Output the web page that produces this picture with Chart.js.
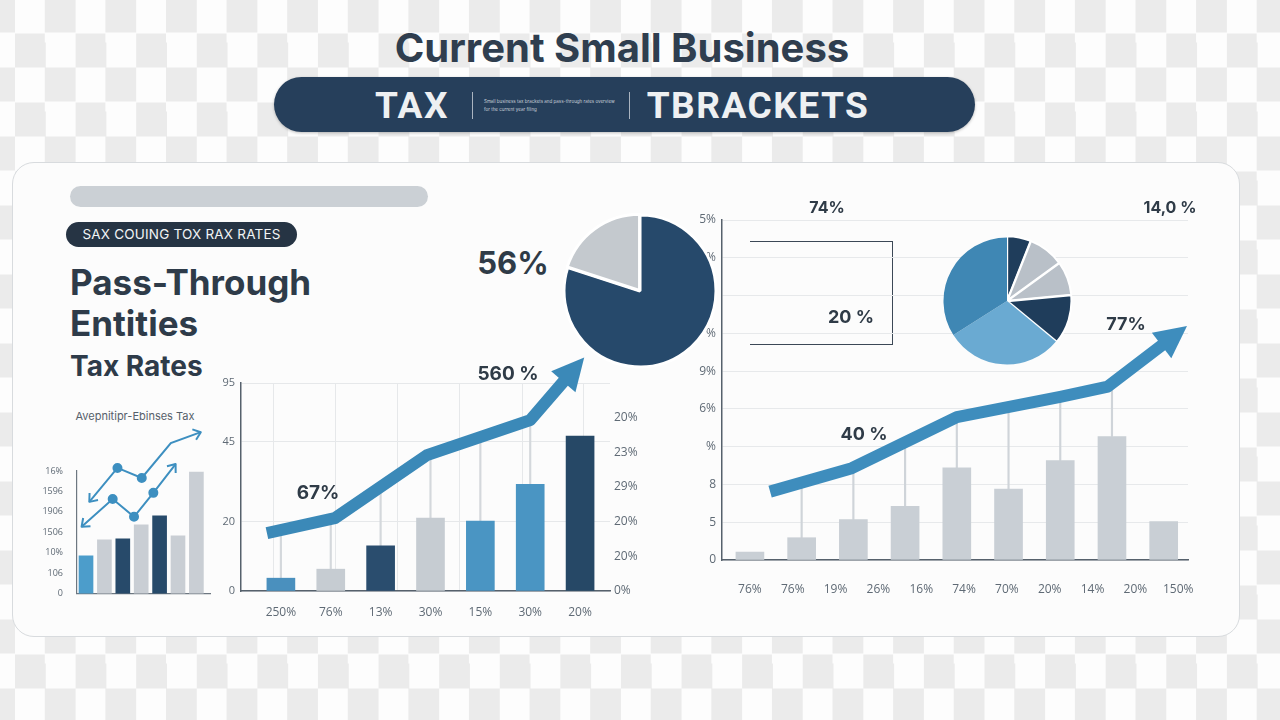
<!DOCTYPE html>
<html>
<head>
<meta charset="utf-8">
<title>Current Small Business Tax Brackets</title>
<script src="https://cdn.jsdelivr.net/npm/chart.js@4.4.1/dist/chart.umd.min.js"></script>
<style>
html, body { margin: 0; padding: 0; }
body {
    width: 1280px; height: 720px; position: relative; overflow: hidden;
    font-family: Inter, "Open Sans", sans-serif;
    background-color: #fdfdfd;
    background-image: conic-gradient(#ebebeb 0 25%, #fdfdfd 0 50%, #ebebeb 0 75%, #fdfdfd 0);
    background-size: 60.6px 69px;
    background-position: 15px -1.5px;
}
.abs { position: absolute; }
.c { transform: translate(-50%, -50%); white-space: nowrap; }
.box { position: absolute; }
.box canvas { display: block; }
#title { left: 622px; top: 47px; font-size: 40px; font-weight: 700; color: #2f3e4f; }
#banner {
    left: 274px; top: 77px; width: 701px; height: 55px; border-radius: 28px;
    background: #263f5b; box-shadow: 0 1px 3px rgba(0,0,0,.25);
}
.bword { top: 105px; font-family: Roboto, sans-serif; font-size: 37px; font-weight: 700; color: #eef0f2; letter-spacing: 1.5px; }
.sep { top: 92px; width: 1px; height: 27px; background: #aab4c0; }
#tiny { left: 484px; top: 98px; width: 132px; font-size: 4.5px; line-height: 8px; color: #c9d1da; }
#card {
    left: 12px; top: 162px; width: 1228px; height: 475px; border-radius: 22px;
    background: #fcfcfc; border: 1px solid #d8dbde; box-sizing: border-box;
}
#greybar { left: 70px; top: 186px; width: 358px; height: 21px; border-radius: 11px; background: #cbd0d5; }
#pill {
    left: 66px; top: 222px; width: 231px; height: 25px; border-radius: 13px; background: #263444;
    color: #f2f4f6; font-size: 13.5px; line-height: 25px; text-align: center; letter-spacing: 0.2px;
}
.head { left: 70px; font-weight: 700; color: #2e3b49; white-space: nowrap; }
.lbl { font-weight: 700; color: #2f3b47; }
#rect {
    left: 750px; top: 241px; width: 142px; height: 102px;
    border-top: 1.5px solid #3c4856; border-right: 1.5px solid #3c4856; border-bottom: 1.5px solid #3c4856;
}
</style>
</head>
<body>

<div id="title" class="abs c">Current Small Business</div>
<div id="banner" class="abs"></div>
<div class="abs c bword" style="left:412px">TAX</div>
<div class="abs sep" style="left:472px"></div>
<div id="tiny" class="abs">Small business tax brackets and pass-through rates overview for the current year filing</div>
<div class="abs sep" style="left:629px"></div>
<div class="abs c bword" style="left:758px">TBRACKETS</div>

<div id="card" class="abs"></div>
<div id="greybar" class="abs"></div>
<div id="pill" class="abs">SAX COUING TOX RAX RATES</div>
<div class="abs head" style="top:261px;font-size:35px">Pass-Through</div>
<div class="abs head" style="top:302px;font-size:35px">Entities</div>
<div class="abs head" style="top:349px;font-size:28px">Tax Rates</div>
<div class="abs c" style="left:135px;top:416px;font-size:11px;color:#56606b">Avepnitipr-Ebinses Tax</div>

<div id="rect" class="abs"></div>

<div class="box" style="left:40px;top:400px;width:175px;height:205px"><canvas id="smallChart"></canvas></div>
<div class="box" style="left:220px;top:340px;width:430px;height:285px"><canvas id="midChart"></canvas></div>
<div class="box" style="left:690px;top:191px;width:525px;height:409px"><canvas id="rightChart"></canvas></div>
<div class="box" style="left:561px;top:212px;width:158px;height:158px"><canvas id="bigPie"></canvas></div>
<div class="box" style="left:941px;top:235px;width:132px;height:132px"><canvas id="smallPie"></canvas></div>

<div class="abs c lbl" style="left:513px;top:262px;font-size:31px">56%</div>
<div class="abs c lbl" style="left:508px;top:373px;font-size:19px">560 %</div>
<div class="abs c lbl" style="left:318px;top:492px;font-size:19px">67%</div>
<div class="abs c lbl" style="left:827px;top:207px;font-size:16px">74%</div>
<div class="abs c lbl" style="left:1170px;top:207px;font-size:16px">14,0 %</div>
<div class="abs c lbl" style="left:851px;top:316px;font-size:18px">20 %</div>
<div class="abs c lbl" style="left:1126px;top:323px;font-size:18px">77%</div>
<div class="abs c lbl" style="left:864px;top:433px;font-size:18px">40 %</div>

<script>
// ============================================================
// DATA
// ============================================================
// small chart (left)
const smallYLabels = ['0', '106', '10%', '1506', '1906', '1596', '16%'];
const smallBars = [1.85, 2.63, 2.68, 3.37, 3.8, 2.83, 5.95];
const smallLineAX = [0.18, 1.71, 3.03, 4.61, 6.24];
const smallLineAY = [4.49, 6.15, 5.66, 7.37, 7.9];
const smallLineBX = [-0.24, 1.45, 2.61, 3.66, 4.87];
const smallLineBY = [3.27, 4.63, 3.76, 4.93, 6.34];

// middle chart
const midLabels = ['250%', '76%', '13%', '30%', '15%', '30%', '20%'];
const midBars = [3.7, 6.3, 13, 21, 20.2, 30.8, 44.7];
const midDrop = [16.8, 21, 31, 40.3, 44.6, 49.6, null];
const midLineX = [-0.28, 1.08, 2.93, 5.0, 5.69];
const midLineY = [16.7, 21.0, 39.2, 49.3, 60.8];
const midLeftTicks = [0, 20, 43, 60];
const midLeftLabels = ['0', '20', '45', '95'];
const midRightLabels = ['0%', '20%', '20%', '29%', '23%', '20%'];
const midGridX = [0.48, 1.73, 2.95, 4.23, 5.45];

// right chart
const rightLabels = ['76%', '76%', '19%', '26%', '16%', '74%', '70%', '20%', '14%', '20%', '150%'];
const rightBars = [0.21, 0.59, 1.07, 1.42, 2.44, 1.88, 2.63, 3.27, 1.02];
const rightDrop = [null, 2.01, 2.44, 3.11, 3.75, 4.02, 4.29, 4.61, null];
const rightLineX = [0.39, 1.97, 4.0, 6.0, 6.92, 7.99];
const rightLineY = [1.81, 2.43, 3.78, 4.32, 4.59, 5.71];
const rightYLabels = ['0', '5', '8', '%', '6%', '9%', '%', '%', '%', '5%'];

// pies
const bigPieValues = [80, 20];
const smallPieValues = [6, 9, 8.5, 12.5, 30, 34];

// ============================================================
// STYLES
// ============================================================
const NAVY = '#26496b';
const DARK = '#1f3d5b';
const ARROW = '#3b89b8';
const TICK = '#5f6a75';
const AXIS = '#56616c';

Chart.defaults.animation = false;
Chart.defaults.font.family = '"Open Sans", sans-serif';
Chart.defaults.plugins.legend.display = false;
Chart.defaults.plugins.tooltip.enabled = false;

function pts(xs, ys) {
    return xs.map(function(x, i) { return { x: x, y: ys[i] }; });
}
function drops(tops, base) {
    const out = [];
    tops.forEach(function(t, i) {
        if (t !== null) out.push({ x: i, y: [base[i], t] });
    });
    return out;
}

// arrow heads drawn on the end (or start) of flagged line datasets
function drawHead(ctx, from, to, ds) {
    const a = Math.atan2(to.y - from.y, to.x - from.x);
    const L = ds.arrow.length, W = ds.arrow.width;
    ctx.save();
    ctx.translate(to.x, to.y);
    ctx.rotate(a);
    ctx.beginPath();
    if (ds.arrow.open) {
        ctx.moveTo(-L, -W / 2);
        ctx.lineTo(0, 0);
        ctx.lineTo(-L, W / 2);
        ctx.strokeStyle = ds.borderColor;
        ctx.lineWidth = ds.borderWidth;
        ctx.lineJoin = 'round';
        ctx.stroke();
    } else {
        ctx.moveTo(-2, -W / 2);
        ctx.lineTo(L, 0);
        ctx.lineTo(-2, W / 2);
        ctx.closePath();
        ctx.fillStyle = ds.borderColor;
        ctx.fill();
    }
    ctx.restore();
}
const arrowPlugin = {
    id: 'arrows',
    afterDatasetsDraw: function(chart) {
        chart.data.datasets.forEach(function(ds, i) {
            if (!ds.arrow) return;
            const p = chart.getDatasetMeta(i).data;
            const n = p.length;
            if (ds.arrow.end) drawHead(chart.ctx, p[n - 2], p[n - 1], ds);
            if (ds.arrow.start) drawHead(chart.ctx, p[1], p[0], ds);
        });
    }
};

// ============================================================
// SMALL CHART
// ============================================================
const smallColors = ['#4c9dcb', '#c9ced4', '#274a6a', '#c9ced4', '#274a6a', '#c9ced4', '#c9ced4'];
const smallLine = function(xs, ys) {
    return {
        type: 'line', data: pts(xs, ys), borderColor: '#3d8fc0', backgroundColor: '#3d8fc0',
        borderWidth: 2, tension: 0, clip: false, order: 0,
        pointRadius: function(c) { return (c.dataIndex === 0 || c.dataIndex === xs.length - 1) ? 0 : 4; },
        arrow: { start: true, end: true, open: true, length: 7, width: 11 }
    };
};
new Chart(document.getElementById('smallChart'), {
    type: 'bar',
    data: {
        datasets: [
            smallLine(smallLineAX, smallLineAY),
            smallLine(smallLineBX, smallLineBY),
            {
                data: smallBars.map(function(v, i) { return { x: i, y: v }; }),
                backgroundColor: smallColors, barThickness: 14, order: 1
            }
        ]
    },
    options: {
        responsive: true, maintainAspectRatio: false,
        layout: { padding: { top: 71, right: 5, left: 0, bottom: 0 } },
        scales: {
            x: {
                type: 'linear', min: -0.49, max: 6.74, offset: false, bounds: 'data',
                grid: { display: false }, ticks: { display: false },
                border: { color: '#6d7781', width: 1.2 },
                afterFit: function(s) { s.height = 11; }
            },
            y: {
                min: 0, max: 6,
                grid: { display: false },
                border: { color: '#6d7781', width: 1.2 },
                ticks: {
                    stepSize: 1, padding: 6, color: TICK, font: { size: 9 },
                    callback: function(v, i) { return smallYLabels[i]; }
                },
                afterFit: function(s) { s.width = 37; }
            }
        }
    },
    plugins: [arrowPlugin]
});

// ============================================================
// MIDDLE CHART
// ============================================================
const midColors = ['#4a90be', '#c6ccd2', '#2a4d6e', '#c6ccd2', '#4a95c3', '#4a95c3', '#264866'];
new Chart(document.getElementById('midChart'), {
    type: 'bar',
    data: {
        datasets: [
            {
                type: 'line', data: pts(midLineX, midLineY), borderColor: ARROW,
                borderWidth: 12, tension: 0, pointRadius: 0, clip: false, order: 0,
                borderJoinStyle: 'round',
                arrow: { end: true, length: 30, width: 32 }
            },
            {
                data: midBars.map(function(v, i) { return { x: i, y: v }; }),
                backgroundColor: midColors, barThickness: 28, grouped: false, order: 1
            },
            {
                data: drops(midDrop, midBars), backgroundColor: '#d4d8dc',
                barThickness: 1.5, grouped: false, order: 2
            }
        ]
    },
    options: {
        responsive: true, maintainAspectRatio: false,
        layout: { padding: { top: 43, right: 0, left: 0, bottom: 0 } },
        scales: {
            x: {
                type: 'linear', min: -0.8, max: 6.6, offset: false, bounds: 'data',
                grid: { display: false },
                border: { color: AXIS, width: 1.5 },
                afterBuildTicks: function(s) { s.ticks = midLabels.map(function(l, i) { return { value: i }; }); },
                ticks: {
                    padding: 6, color: TICK, font: { size: 12 }, maxRotation: 0, autoSkip: false,
                    callback: function(v, i) { return midLabels[i]; }
                },
                afterFit: function(s) { s.height = 34; }
            },
            xg: {
                type: 'linear', position: 'bottom', min: -0.8, max: 6.6, offset: false, bounds: 'data',
                grid: { color: '#e6e8ea', drawTicks: false },
                border: { display: false },
                ticks: { display: false },
                afterBuildTicks: function(s) { s.ticks = midGridX.map(function(v) { return { value: v }; }); },
                afterFit: function(s) { s.height = 0; }
            },
            y: {
                min: 0, max: 60,
                grid: { color: '#e6e8ea', drawTicks: false },
                border: { color: AXIS, width: 1.5 },
                afterBuildTicks: function(s) { s.ticks = midLeftTicks.map(function(v) { return { value: v }; }); },
                ticks: {
                    padding: 6, color: TICK, font: { size: 11 },
                    callback: function(v, i) { return midLeftLabels[i]; }
                },
                afterFit: function(s) { s.width = 21; }
            },
            y2: {
                position: 'right', min: 0, max: 60,
                grid: { display: false, drawTicks: false },
                border: { display: false },
                afterBuildTicks: function(s) { s.ticks = midRightLabels.map(function(l, i) { return { value: i * 10 }; }); },
                ticks: {
                    padding: 4, color: TICK, font: { size: 12 },
                    callback: function(v, i) { return midRightLabels[i]; }
                },
                afterFit: function(s) { s.width = 40; }
            }
        }
    },
    plugins: [arrowPlugin]
});

// ============================================================
// RIGHT CHART
// ============================================================
const rightLabelStep = 0.828;
new Chart(document.getElementById('rightChart'), {
    type: 'bar',
    data: {
        datasets: [
            {
                type: 'line', data: pts(rightLineX, rightLineY), borderColor: '#3e8dbd',
                borderWidth: 12, tension: 0, pointRadius: 0, clip: false, order: 0,
                borderJoinStyle: 'round',
                arrow: { end: true, length: 30, width: 32 }
            },
            {
                data: rightBars.map(function(v, i) { return { x: i, y: v }; }),
                backgroundColor: '#c9cfd5', barThickness: 28, grouped: false, order: 1
            },
            {
                data: drops(rightDrop, rightBars), backgroundColor: '#cfd4d9',
                barThickness: 1.5, grouped: false, order: 2
            }
        ]
    },
    options: {
        responsive: true, maintainAspectRatio: false,
        layout: { padding: { top: 29, right: 27, left: 0, bottom: 0 } },
        scales: {
            x: {
                type: 'linear', min: -0.54, max: 8.47, offset: false, bounds: 'data',
                grid: { display: false },
                border: { color: AXIS, width: 1.5 },
                afterBuildTicks: function(s) {
                    s.ticks = rightLabels.map(function(l, i) { return { value: i * rightLabelStep }; });
                },
                ticks: {
                    padding: 14, color: TICK, font: { size: 12 }, maxRotation: 0, autoSkip: false,
                    callback: function(v, i) { return rightLabels[i]; }
                },
                afterFit: function(s) { s.height = 40; }
            },
            y: {
                min: 0, max: 9,
                grid: { color: '#e7e9eb', drawTicks: false },
                border: { color: AXIS, width: 1.5 },
                ticks: {
                    stepSize: 1, padding: 6, color: TICK, font: { size: 12 },
                    callback: function(v, i) { return rightYLabels[i]; }
                },
                afterFit: function(s) { s.width = 32; }
            }
        }
    },
    plugins: [arrowPlugin]
});

// ============================================================
// PIES
// ============================================================
new Chart(document.getElementById('bigPie'), {
    type: 'pie',
    data: {
        datasets: [{
            data: bigPieValues, backgroundColor: [NAVY, '#c4c9ce'],
            borderColor: '#ffffff', borderWidth: 3, offset: [0, 3]
        }]
    },
    options: { responsive: true, maintainAspectRatio: false }
});

new Chart(document.getElementById('smallPie'), {
    type: 'pie',
    data: {
        datasets: [{
            data: smallPieValues,
            backgroundColor: [DARK, '#b9c0c8', '#b9c0c8', DARK, '#6aaad2', '#3f87b4'],
            borderColor: '#ffffff', borderWidth: [2, 2, 2, 2, 0, 0], offset: [3, 3, 3, 3, 0, 0]
        }]
    },
    options: { responsive: true, maintainAspectRatio: false }
});
</script>
</body>
</html>
